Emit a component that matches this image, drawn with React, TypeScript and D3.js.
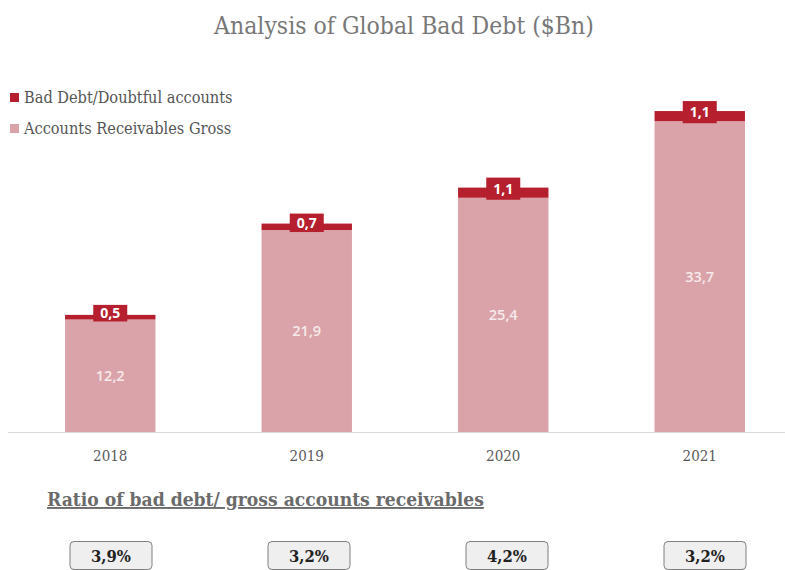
import React from "react";
import * as d3 from "d3";

const years = ["2018", "2019", "2020", "2021"];
const grossReceivables = [12.2, 21.9, 25.4, 33.7];
const badDebt = [0.5, 0.7, 1.1, 1.1];
const ratioLabels = ["3,9%", "3,2%", "4,2%", "3,2%"];
const legendLabels = ["Bad Debt/Doubtful accounts", "Accounts Receivables Gross"];

const W = 785;
const H = 570;
const DARK = "#B51F2E";
const PINK = "#D9A3A9";
const SERIF = "'DejaVu Serif', 'Liberation Serif', serif";
const SANS = "'Open Sans', 'Noto Sans', sans-serif";

const fmt = (v: number) => v.toFixed(1).replace(".", ",");

export default function App() {
  const x = d3
    .scaleBand<string>()
    .domain(years)
    .range([12, 798])
    .paddingInner(0.54)
    .paddingOuter(0.27);
  const y = d3.scaleLinear().domain([0, 36]).range([432, 100]);
  const xBox = d3.scalePoint<string>().domain(years).range([111, 705]);

  const stack = d3
    .stack<number>()
    .keys(["gross", "bad"])
    .value((i, key) => (key === "gross" ? grossReceivables[i] : badDebt[i]))(
    years.map((_, i) => i)
  );

  return (
    <svg width={W} height={H} style={{ display: "block", position: "absolute", left: 0, top: 0 }}>
      <rect width={W} height={H} fill="#fff" />
      <text
        x={404}
        y={34}
        textAnchor="middle"
        fontFamily={SERIF}
        fontStretch="condensed"
        fontSize={24.5}
        fill="#787878"
      >
        Analysis of Global Bad Debt ($Bn)
      </text>

      {/* legend */}
      {legendLabels.map((l, i) => (
        <g key={l} transform={`translate(10, ${93 + i * 31})`}>
          <rect width={9} height={9} fill={i === 0 ? DARK : PINK} />
          <text
            x={14}
            y={10}
            fontFamily={SERIF}
            fontStretch="condensed"
            fontSize={16.2}
            fill="#555"
          >
            {l}
          </text>
        </g>
      ))}

      {/* bars */}
      {stack.map((layer) =>
        layer.map((d, i) => (
          <rect
            key={layer.key + i}
            x={x(years[i])}
            width={x.bandwidth()}
            y={y(d[1])}
            height={y(d[0]) - y(d[1])}
            fill={layer.key === "gross" ? PINK : DARK}
          />
        ))
      )}

      {/* gross labels */}
      {stack[0].map((d, i) => (
        <text
          key={"gl" + i}
          x={x(years[i])! + x.bandwidth() / 2}
          y={(y(d[0]) + y(d[1])) / 2 + 5}
          textAnchor="middle"
          fontFamily={SANS}
          fontWeight={600}
          fontSize={14.5}
          fill="#f7eaea"
        >
          {fmt(grossReceivables[i])}
        </text>
      ))}

      {/* bad debt labels */}
      {stack[1].map((d, i) => {
        const cx = x(years[i])! + x.bandwidth() / 2;
        const top = y(d[1]) - 10;
        const h = y(d[0]) - y(d[1]) + 12;
        return (
          <g key={"bl" + i}>
            <rect x={cx - 17} y={top} width={34} height={h} fill={DARK} />
            <text
              x={cx}
              y={top + h / 2 + 5}
              textAnchor="middle"
              fontFamily={SANS}
              fontWeight={700}
              fontSize={14}
              fill="#fff"
            >
              {fmt(badDebt[i])}
            </text>
          </g>
        );
      })}

      {/* axis */}
      <line x1={8} x2={785} y1={432.5} y2={432.5} stroke="#d9d9d9" strokeWidth={1} />
      {years.map((yr) => (
        <text
          key={yr}
          x={x(yr)! + x.bandwidth() / 2}
          y={461}
          textAnchor="middle"
          fontFamily={SERIF}
          fontStretch="condensed"
          fontSize={15}
          fill="#595959"
        >
          {yr}
        </text>
      ))}

      {/* ratio section */}
      <text
        x={47}
        y={506}
        fontFamily={SERIF}
        fontStretch="condensed"
        fontWeight={700}
        fontSize={19.1}
        fill="#6b6b6b"
        textDecoration="underline"
      >
        Ratio of bad debt/ gross accounts receivables
      </text>
      {ratioLabels.map((r, i) => {
        const cx = xBox(years[i])!;
        return (
          <g key={"r" + i}>
            <rect
              x={cx - 41}
              y={541.5}
              width={82}
              height={28}
              rx={4}
              fill="#efefef"
              stroke="#7f7f7f"
              strokeWidth={1}
            />
            <text
              x={cx}
              y={561.5}
              textAnchor="middle"
              fontFamily={SERIF}
              fontStretch="condensed"
              fontWeight={700}
              fontSize={16.5}
              fill="#222"
            >
              {r}
            </text>
          </g>
        );
      })}
    </svg>
  );
}
